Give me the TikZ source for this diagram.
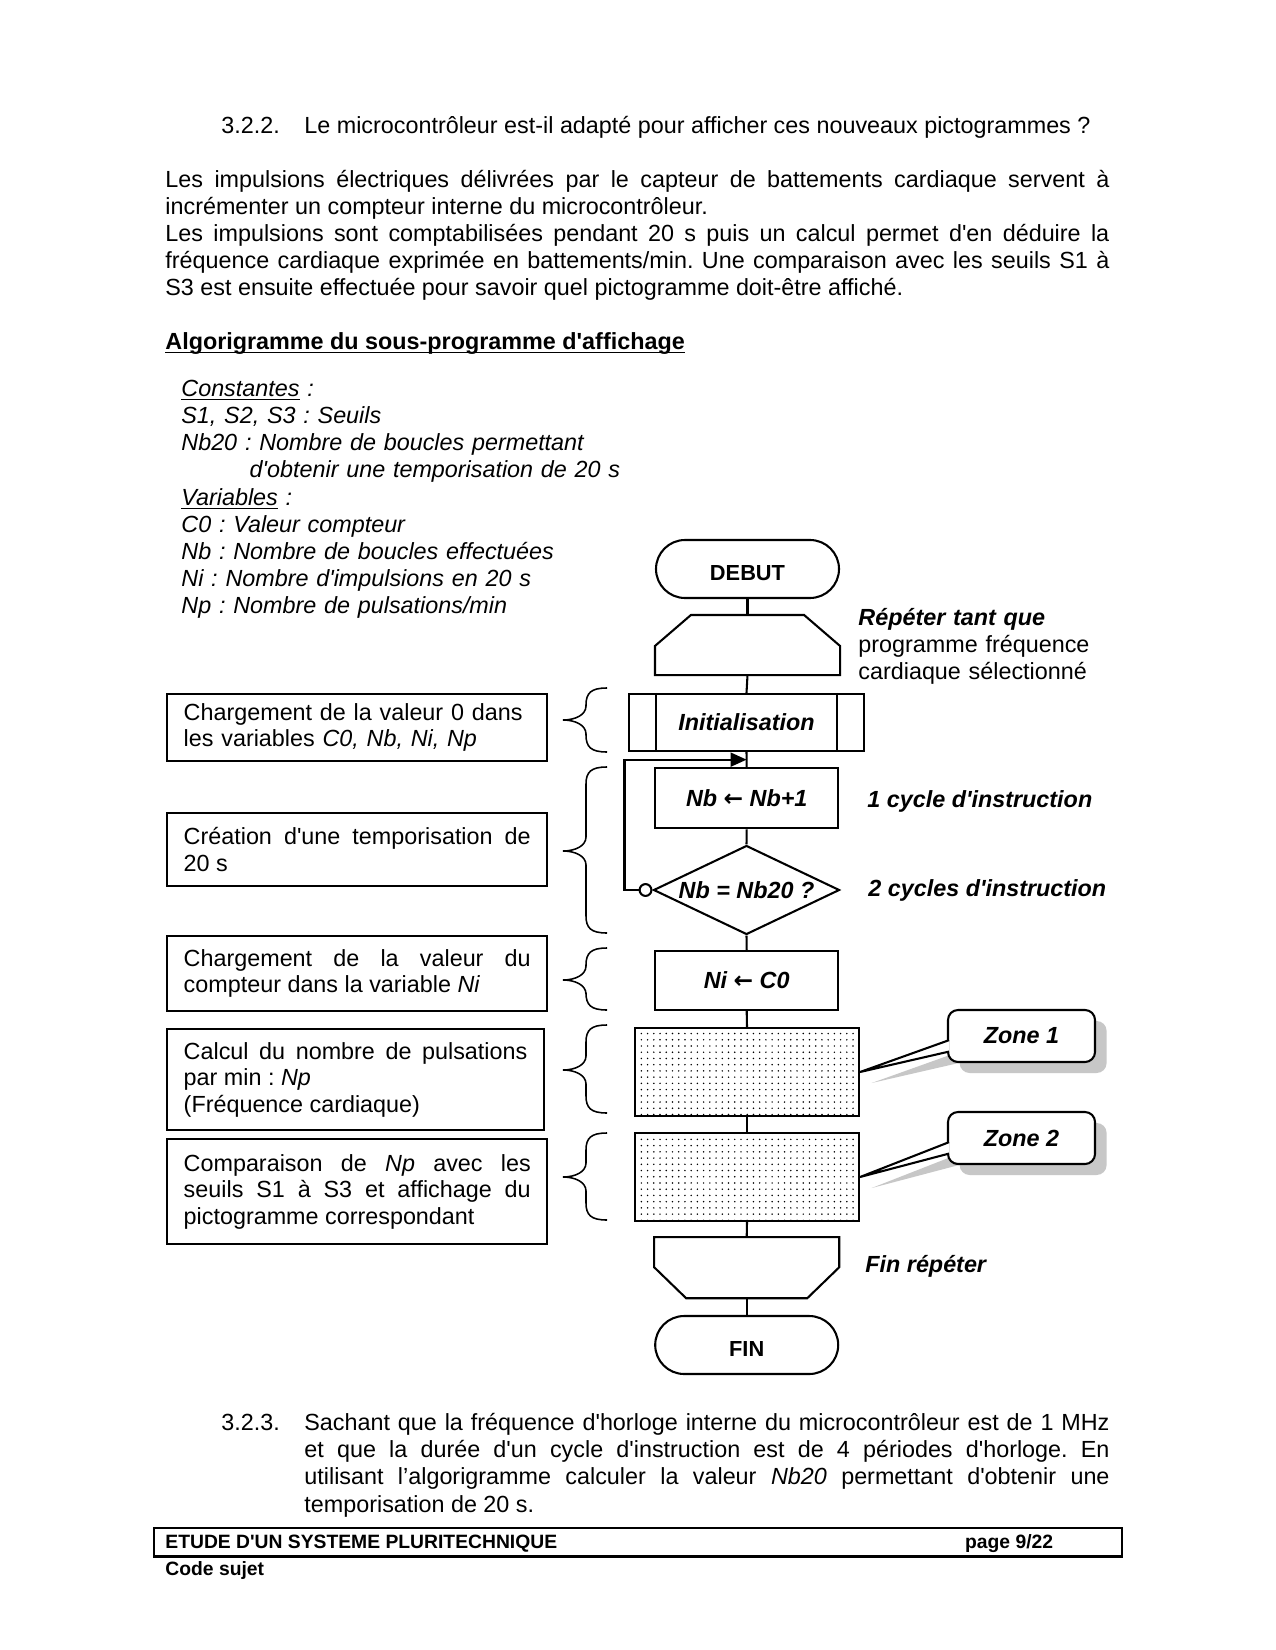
\documentclass[tikz,border=0pt]{standalone}
\usepackage{fontspec}
\setmainfont{Liberation Sans}[Ligatures=TeXOff]
\newfontfamily\fleche{DejaVu Sans}
\usetikzlibrary{shapes.geometric,shapes.misc,arrows.meta,patterns.meta,shadows,backgrounds,calc}

\newcommand{\px}{0.4818pt}
\newcommand{\souligne}[1]{\underline{\smash{#1}}}
% accolade : haut, bas, pointe
\newcommand{\accolade}[3]{%
  \draw[line width=0.75pt] (607,#1) .. controls (591,#1) and (586,#1+5) .. (586,#1+17)
    -- (586,#3-14) .. controls (586,#3-5) and (575,#3) .. (563,#3)
    .. controls (575,#3) and (586,#3+5) .. (586,#3+14)
    -- (586,#2-17) .. controls (586,#2-5) and (591,#2) .. (607,#2);}

\begin{document}
\frenchspacing
\begin{tikzpicture}[x=\px, y=-\px,
  texte/.style={inner sep=0pt, anchor=base west, font=\fontsize{11.25}{13.06}\selectfont},
  gras/.style={texte, font=\fontsize{11.25}{13.06}\selectfont\bfseries\itshape},
  bloc/.style={draw, line width=1pt, inner sep=0pt, minimum width=183*\px, minimum height=59*\px,
    font=\fontsize{11.25}{13.06}\selectfont\bfseries\itshape},
  terminal/.style={bloc, rounded rectangle, minimum height=58*\px, text height=11.3pt, text depth=0pt,
    font=\fontsize{10.5}{13}\selectfont\bfseries},
  boucle/.style={bloc, draw=none, minimum height=58*\px},
  decision/.style={bloc, diamond, minimum width=186*\px, minimum height=89*\px},
  zone/.style={bloc, pattern={Dots[distance=3pt, radius=0.4pt]}, minimum width=224*\px, minimum height=88*\px},
  bulle/.style={bloc, fill=white, rounded corners=10*\px, minimum width=147*\px, minimum height=52*\px,
    drop shadow={shadow xshift=5.6pt, shadow yshift=-5.3pt, fill=black!22, opacity=1}},
  commentaire/.style={draw, line width=1pt, anchor=north west, inner xsep=16.7*\px, inner ysep=0pt,
    text width=347*\px, align=justify, font=\fontsize{11.25}{12.86}\selectfont},
  lien/.style={line width=1pt}
]
\useasboundingbox (0,0) rectangle (1275,1650);

% texte de la page
\node[texte] (num322) at (221,133.6) {3.2.2.};
\node[texte] (q322) at (304,133.6) {Le microcontrôleur est-il adapté pour afficher ces nouveaux pictogrammes ?};
\node[texte, text width=454.8pt, align=justify] (intro) at (165,187.2) {Les impulsions électriques délivrées par le capteur de battements cardiaque servent à\linebreak incrémenter un compteur interne du microcontrôleur.\par Les impulsions sont comptabilisées pendant 20 s puis un calcul permet d'en déduire la\linebreak fréquence cardiaque exprimée en battements/min. Une comparaison avec les seuils S1 à\linebreak S3 est ensuite effectuée pour savoir quel pictogramme doit-être affiché.};
\node[texte, font=\fontsize{11.25}{13.06}\selectfont\bfseries] (titre) at (165,349.2) {\souligne{Algorigramme du sous-programme d'affichage}};
\node[texte, text width=455*\px, align=left, font=\fontsize{11.25}{13.06}\selectfont\itshape] (legende) at (181,396.6) {\souligne{Constantes} :\\S1, S2, S3 : Seuils\\Nb20 : Nombre de boucles permettant\\\hspace*{32.9pt}d'obtenir une temporisation de 20 s\\\souligne{Variables} :\\C0 : Valeur compteur\\Nb : Nombre de boucles effectuées\\Ni : Nombre d'impulsions en 20 s\\Np : Nombre de pulsations/min};

% algorigramme
\node[terminal] (debut) at (747.5,569) {DEBUT};
\node[boucle] (rep) at (747.5,645) {};
\draw[lien] (rep.south west) -- ([yshift=-31*\px]rep.north west) -- ([xshift=36*\px]rep.north west)
  -- ([xshift=-36*\px]rep.north east) -- ([yshift=-31*\px]rep.north east) -- (rep.south east) -- cycle;
\node[bloc, minimum width=235*\px, minimum height=57*\px] (init) at (746.5,722.5) {Initialisation};
\draw[lien] ([xshift=28*\px]init.north west) -- ([xshift=28*\px]init.south west);
\draw[lien] ([xshift=-28*\px]init.north east) -- ([xshift=-28*\px]init.south east);
\node[bloc, minimum height=60*\px] (nb) at (746.7,798.3) {Nb {\fleche ←} Nb+1};
\node[decision] (test) at (746.5,890) {};
\node[gras, anchor=center] (testtexte) at (test) {Nb = Nb20 ?};
\node[bloc] (ni) at (746.7,980.5) {Ni {\fleche ←} C0};
\node[zone] (zone1) at (747,1072) {};
\node[zone] (zone2) at (747,1177) {};
\node[boucle, minimum height=59*\px] (finrep) at (746.7,1267.7) {};
\draw[lien] (finrep.north west) -- (finrep.north east) -- ([yshift=31*\px]finrep.south east)
  -- ([xshift=-32*\px]finrep.south east) -- ([xshift=32*\px]finrep.south west) -- ([yshift=31*\px]finrep.south west) -- cycle;
\node[terminal] (fin) at (746.7,1345) {FIN};

\draw[lien] (debut.south) -- (rep.north);
\draw[lien] (rep.south) -- (init.north);
\draw[lien] (init.south) -- (nb.north);
\draw[lien] (nb.south) -- (test.north);
\draw[lien] (test.south) -- (ni.north);
\draw[lien] (ni.south) -- (zone1.north);
\draw[lien] (zone1.south) -- (zone2.north);
\draw[lien] (zone2.south) -- (finrep.north);
\draw[lien] (finrep.south) -- (fin.north);

\coordinate (retour) at ($(init.south)!0.5!(nb.north)$);
\draw[lien, {Circle[open, length=6.7pt]}-{Triangle[length=7.7pt, width=6.7pt]}] (test.west) -- ++(-28,0) |- (retour);

% commentaires a droite
\node[texte, text width=240*\px, align=left] (repete) at (858,625) {\textbf{\textit{Répéter tant que}}\\programme fréquence\\cardiaque sélectionné};
\node[gras] (cycle1) at (867,807) {1 cycle d'instruction};
\node[gras] (cycle2) at (868,896) {2 cycles d'instruction};
\node[gras] (finrepete) at (865,1272) {Fin répéter};

% bulles
\node[bulle] (bulle1) at (1021.5,1036) {Zone 1};
\node[bulle] (bulle2) at (1021.5,1138) {Zone 2};
\draw[lien, fill=white] ([xshift=1pt, yshift=-2pt]bulle1.west) -- (zone1.east) -- ([xshift=1pt, yshift=-7.5pt]bulle1.west);
\draw[lien, fill=white] ([xshift=1pt, yshift=-2pt]bulle2.west) -- (zone2.east) -- ([xshift=1pt, yshift=-7.5pt]bulle2.west);
\begin{scope}[on background layer]
\fill[white] (0,0) rectangle (1275,1650);
\fill[black!22] ([xshift=6.6pt, yshift=-7.3pt]bulle1.west) -- ([xshift=5.6pt, yshift=-5.3pt]zone1.east) -- ([xshift=6.6pt, yshift=-12.8pt]bulle1.west) -- cycle;
\fill[black!22] ([xshift=6.6pt, yshift=-7.3pt]bulle2.west) -- ([xshift=5.6pt, yshift=-5.3pt]zone2.east) -- ([xshift=6.6pt, yshift=-12.8pt]bulle2.west) -- cycle;
\end{scope}

% commentaires a gauche
\node[commentaire, align=left, minimum height=67.3*\px] (com1) at (166,692.7) {Chargement de la valeur 0 dans\\les variables \textit{C0, Nb, Ni, Np}};
\node[commentaire, minimum height=73.3*\px] (com2) at (166,811.7) {Création d'une temporisation de\linebreak 20 s};
\node[commentaire, minimum height=75*\px] (com3) at (166,935) {Chargement de la valeur du\linebreak compteur dans la variable \textit{Ni}};
\node[commentaire, text width=343.6*\px, minimum height=101*\px] (com4) at (166,1028.3) {Calcul du nombre de pulsations\linebreak par min : \textit{Np}\\(Fréquence cardiaque)};
\node[commentaire, minimum height=105*\px] (com5) at (166,1138.3) {Comparaison de \textit{Np} avec les\linebreak seuils S1 à S3 et affichage du\linebreak pictogramme correspondant};

\accolade{688}{752}{720}
\accolade{767}{933}{851}
\accolade{948}{1010}{980}
\accolade{1025}{1113}{1070}
\accolade{1133}{1220}{1177}

% question suivante
\node[texte] (num323) at (221,1430.7) {3.2.3.};
\node[texte, text width=387.9pt, align=justify] (q323) at (304,1430.7) {Sachant que la fréquence d'horloge interne du microcontrôleur est de 1 MHz\linebreak et que la durée d'un cycle d'instruction est de 4 périodes d'horloge. En\linebreak utilisant l’algorigramme calculer la valeur \textit{Nb20} permettant d'obtenir une\linebreak temporisation de 20 s.};

% pied de page
\node[draw, line width=1.2pt, minimum width=968*\px, minimum height=28.5*\px, anchor=north west, inner sep=0pt] (pied) at (152.5,1526.5) {};
\node[texte, font=\fontsize{9.3}{11}\selectfont\bfseries] (etude) at (165,1548) {ETUDE D'UN SYSTEME PLURITECHNIQUE};
\node[texte, font=\fontsize{9.3}{11}\selectfont\bfseries] (page) at (964.7,1548) {page 9/22};
\node[texte, font=\fontsize{9.3}{11}\selectfont\bfseries] (code) at (165,1575.5) {Code sujet};
\end{tikzpicture}
\end{document}
